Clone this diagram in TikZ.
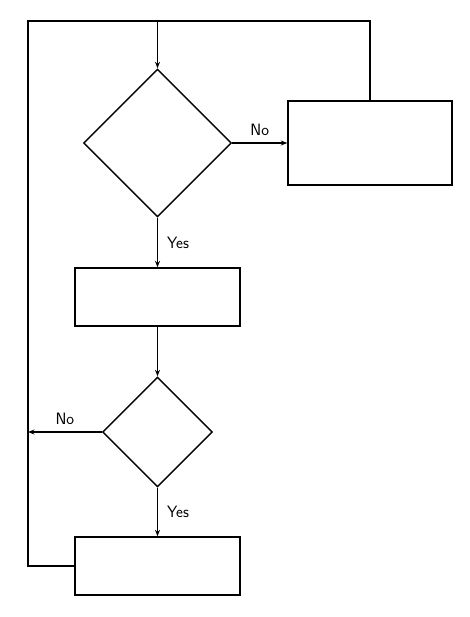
\documentclass[tikz,border=0pt]{standalone}
\usetikzlibrary{shapes.geometric,arrows.meta}
\begin{document}
\begin{tikzpicture}[x=1bp,y=-1bp,
  every node/.style={font=\sffamily\fontsize{16.5}{19}\selectfont},
  box/.style={draw,line width=1.4bp,rectangle,inner sep=0pt,minimum width=#1},
  dia/.style={draw,line width=1.4bp,diamond,inner sep=0pt,minimum width=#1,minimum height=#1},
  conn/.style={line width=1.4bp},
  arr/.style={conn,-{Stealth[length=6.5pt,width=5pt]}},
  lbl/.style={inner sep=2pt}]
\useasboundingbox (0,0) rectangle (470,617);
\node[dia=148bp] (d1) at (157.5,143) {};
\node[box=164bp,minimum height=84bp] (r1) at (370,143) {};
\node[box=165bp,minimum height=58bp] (r2) at (157.5,297) {};
\node[dia=110bp] (d2) at (157.5,432) {};
\node[box=165bp,minimum height=58bp] (r3) at (157.5,566) {};
\coordinate (top) at (157.5,21);
\coordinate (tl) at (28,21);
\coordinate (lc) at (28,432);
\draw[arr] (top) -- (d1.north);
\draw[arr] (d1.east) -- node[above,lbl,yshift=5pt] {No} (r1.west);
\draw[arr] (d1.south) -- node[right,lbl,xshift=7pt] {Yes} (r2.north);
\draw[arr] (r2.south) -- (d2.north);
\draw[arr] (d2.west) -- node[above,lbl,yshift=5pt] {No} (lc);
\draw[arr] (d2.south) -- node[right,lbl,xshift=7pt] {Yes} (r3.north);
\draw[conn] (r3.west) -| (tl) -| (r1.north);
\end{tikzpicture}
\end{document}
